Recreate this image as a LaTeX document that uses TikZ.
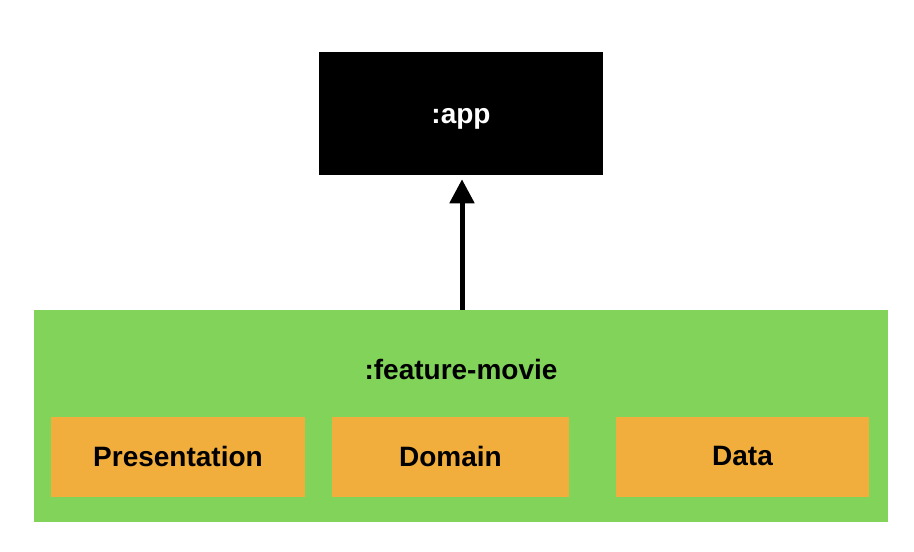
\documentclass[tikz,border=0pt]{standalone}
\usepackage{fontspec}
\setmainfont{Liberation Sans}
\usetikzlibrary{arrows.meta}
\definecolor{modgreen}{RGB}{130,211,90}
\definecolor{layerorange}{RGB}{242,174,61}
\tikzset{
	module/.style={
		draw=none, inner sep=0pt, font=\fontsize{21}{25}\selectfont\bfseries},
	appbox/.style={
		module, fill=black, text=white, text height=14.3pt, text depth=0pt,
		minimum width=213pt, minimum height=92.25pt},
	featurebox/.style={
		module, fill=modgreen,
		minimum width=640.5pt, minimum height=159pt},
	layerbox/.style={
		module, fill=layerorange, minimum height=60pt}
}
\begin{document}
\begin{tikzpicture}[x=0.75pt,y=0.75pt,yscale=-1,xscale=1]
\useasboundingbox (0,0) rectangle (914,552); %set diagram to 914 x 552

% modules
\node [appbox] (app) at (461,113.5) {:app};
\node [featurebox] (feature) at (461,416) {};
\node [module] (featurelabel) at (461,369) {:feature-movie};

% layers of the feature module
\node [layerbox, minimum width=190.5pt] (presentation) at (178,456.5) {Presentation};
\node [layerbox, minimum width=177.75pt] (domain) at (450.5,456.5) {Domain};
\node [layerbox, minimum width=189.75pt] (data) at (742.5,456.5) {Data};

% dependency
\draw [line width=3.75pt, -{Triangle[width=18pt,length=18pt]}, shorten >=3pt] ([xshift=0.75pt]feature.north) -- ([xshift=0.75pt]app.south);

\end{tikzpicture}
\end{document}
